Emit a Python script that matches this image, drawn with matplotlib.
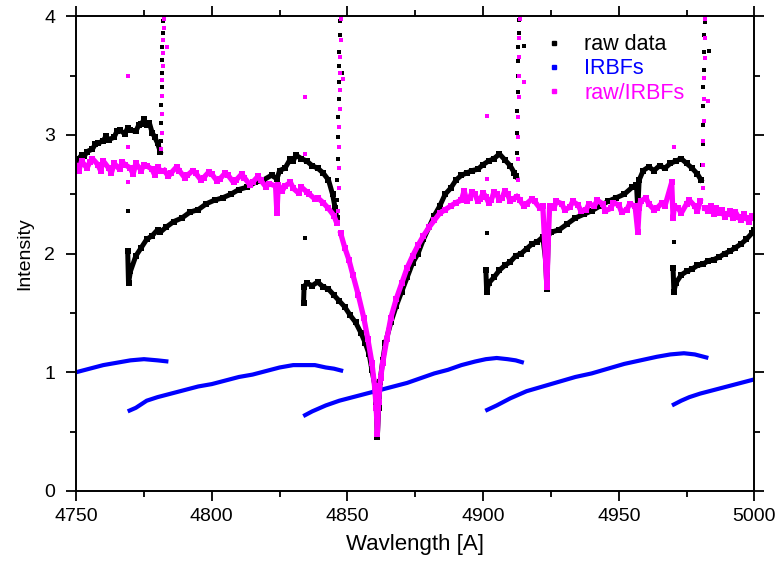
import matplotlib
matplotlib.use("Agg")
import matplotlib.pyplot as plt
from matplotlib.lines import Line2D
from matplotlib.ticker import MultipleLocator

plt.rcParams['font.family'] = ['Liberation Sans', 'DejaVu Sans']

# raw data, one list per echelle order
raw_a_x = [4750, 4751, 4752, 4753, 4754, 4756, 4757, 4758, 4760, 4761, 4762, 4764, 4765, 4766, 4768,
           4769, 4770, 4772, 4773, 4774, 4775, 4776, 4777, 4778, 4779, 4780, 4781]
raw_a_y = [2.76, 2.80, 2.83, 2.82, 2.86, 2.88, 2.92, 2.93, 2.95, 2.99, 2.96, 2.98, 3.03, 3.04, 3.01,
           3.06, 3.04, 3.03, 3.08, 3.09, 3.13, 3.08, 3.10, 3.02, 2.98, 2.93, 2.86]

raw_b_x = [4769.0, 4769.3, 4770, 4772, 4774, 4776, 4778, 4780, 4781, 4783, 4786, 4789, 4792, 4795,
           4798, 4801, 4804, 4807, 4810, 4813, 4816, 4819, 4822, 4824, 4825, 4827, 4829, 4830, 4831,
           4833, 4835, 4837, 4839, 4841, 4843, 4844.5, 4845.5, 4846]
raw_b_y = [2.02, 1.75, 1.85, 1.98, 2.05, 2.12, 2.15, 2.20, 2.18, 2.22, 2.27, 2.30, 2.35, 2.37,
           2.42, 2.45, 2.47, 2.50, 2.54, 2.56, 2.60, 2.62, 2.66, 2.63, 2.70, 2.72, 2.80, 2.78, 2.83,
           2.80, 2.78, 2.74, 2.72, 2.68, 2.62, 2.50, 2.38, 2.30]

raw_c_x = [4833.8, 4834.0, 4835, 4837, 4839, 4841, 4843, 4845, 4847, 4849, 4851, 4853, 4855, 4856.5,
           4858, 4859, 4860, 4860.6, 4861.0, 4861.5, 4862, 4863, 4864, 4866, 4868, 4870, 4872, 4874,
           4876, 4878, 4880, 4882, 4884, 4886, 4888, 4890, 4892, 4894, 4896, 4898, 4900, 4902, 4904,
           4906, 4908, 4910, 4911.5, 4912.2]
raw_c_y = [1.58, 1.72, 1.75, 1.73, 1.76, 1.72, 1.70, 1.65, 1.60, 1.55, 1.48, 1.42, 1.33, 1.25,
           1.15, 1.02, 0.90, 0.72, 0.45, 0.70, 0.92, 1.10, 1.25, 1.42, 1.56, 1.68, 1.80, 1.92,
           2.00, 2.12, 2.22, 2.32, 2.40, 2.50, 2.55, 2.62, 2.66, 2.68, 2.70, 2.71, 2.75, 2.78, 2.80,
           2.84, 2.79, 2.74, 2.68, 2.65]

raw_d_x = [4901.0, 4901.3, 4902, 4904, 4906, 4908, 4910, 4912, 4914, 4916, 4918, 4920, 4922, 4923,
           4923.5, 4924, 4925, 4928, 4931, 4934, 4937, 4940, 4943, 4946, 4949, 4952, 4955, 4956.5,
           4957, 4957.5, 4959, 4961, 4963, 4965, 4967, 4969, 4971, 4973, 4975, 4977, 4979, 4980.3]
raw_d_y = [1.86, 1.68, 1.75, 1.80, 1.86, 1.90, 1.93, 1.98, 2.00, 2.04, 2.08, 2.10, 2.14, 1.95,
           1.70, 2.15, 2.18, 2.20, 2.25, 2.30, 2.33, 2.36, 2.40, 2.44, 2.47, 2.50, 2.56, 2.58,
           2.38, 2.62, 2.70, 2.73, 2.70, 2.74, 2.72, 2.76, 2.78, 2.80, 2.76, 2.72, 2.67, 2.62]

raw_e_x = [4970.0, 4970.3, 4971, 4973, 4975, 4977, 4979, 4981, 4983, 4985, 4987, 4989, 4991, 4993,
           4995, 4997, 4999, 5000]
raw_e_y = [1.88, 1.68, 1.75, 1.82, 1.85, 1.87, 1.90, 1.91, 1.94, 1.95, 1.97, 2.00, 2.02, 2.05,
           2.08, 2.12, 2.17, 2.20]

# order-edge spikes and stray points of the raw data
raw_spike_x = [4781.2, 4781.3, 4781.4, 4781.5, 4781.6, 4781.7, 4781.8, 4781.9, 4782.0,
               4846.2, 4846.3, 4846.4, 4846.5, 4846.6, 4846.7, 4846.8, 4846.9, 4847.0, 4847.1, 4847.2,
               4912.4, 4912.5, 4912.6, 4912.7, 4912.8, 4912.9, 4913.0, 4913.1, 4913.2,
               4980.8, 4980.9, 4981.0, 4981.1, 4981.2, 4981.3, 4981.4, 4981.5, 4981.6]
raw_spike_y = [2.95, 3.10, 3.25, 3.40, 3.52, 3.63, 3.74, 3.86, 3.96,
               2.45, 2.62, 2.80, 2.98, 3.15, 3.30, 3.45, 3.58, 3.70, 3.84, 3.96,
               2.85, 3.02, 3.20, 3.36, 3.50, 3.62, 3.74, 3.86, 3.97,
               2.75, 2.92, 3.08, 3.24, 3.40, 3.55, 3.70, 3.84, 3.95]
raw_out_x = [4769.0, 4834.5, 4901.4, 4970.5, 4848.0, 4915.0, 4983.3]
raw_out_y = [2.36, 2.13, 2.17, 2.10, 3.52, 3.75, 3.71]

# raw / IRBFs
ratio_a_x = [4750, 4751, 4752, 4754, 4755, 4756, 4758, 4759, 4760, 4762, 4763, 4764, 4766, 4767,
             4768, 4770, 4771, 4772, 4774, 4775, 4776, 4778, 4779, 4780, 4781]
ratio_a_y = [2.74, 2.70, 2.78, 2.72, 2.77, 2.80, 2.75, 2.70, 2.78, 2.72, 2.68, 2.76, 2.71, 2.77,
             2.75, 2.72, 2.67, 2.76, 2.70, 2.75, 2.74, 2.71, 2.66, 2.73, 2.70]

ratio_b_x = [4782.5, 4784, 4785, 4787, 4788, 4790, 4791, 4793, 4794, 4796, 4797, 4799, 4800, 4802,
             4803, 4805, 4806, 4808, 4809, 4811, 4812, 4814, 4815, 4817, 4818, 4820, 4821, 4823.5,
             4824, 4824.5, 4826, 4827, 4829, 4830, 4832, 4833, 4835, 4836, 4838, 4839, 4841, 4843,
             4845, 4846]
ratio_b_y = [2.70, 2.65, 2.68, 2.73, 2.70, 2.64, 2.66, 2.70, 2.68, 2.62, 2.64, 2.69, 2.67, 2.61,
             2.63, 2.68, 2.66, 2.60, 2.62, 2.67, 2.64, 2.58, 2.60, 2.65, 2.62, 2.56, 2.59, 2.57,
             2.34, 2.58, 2.53, 2.57, 2.60, 2.55, 2.51, 2.56, 2.52, 2.50, 2.46, 2.47, 2.43, 2.38,
             2.32, 2.26]

ratio_c_x = [4847.5, 4849, 4850.5, 4852, 4854, 4856, 4857.5, 4859, 4860, 4860.6, 4861.0, 4861.5,
             4862.2, 4863, 4864.5, 4866, 4868, 4870, 4872, 4874, 4876, 4878, 4880, 4882, 4884, 4886,
             4888, 4890, 4892, 4893, 4894, 4895, 4896, 4897, 4898, 4899, 4900, 4901, 4902, 4903,
             4904, 4905, 4906, 4907, 4908, 4909, 4910, 4911, 4912.3]
ratio_c_y = [2.17, 2.05, 1.95, 1.82, 1.65, 1.46, 1.28, 1.08, 0.88, 0.70, 0.48, 0.75,
             0.95, 1.08, 1.28, 1.46, 1.62, 1.75, 1.88, 1.98, 2.07, 2.15, 2.22, 2.28, 2.34, 2.37,
             2.40, 2.43, 2.45, 2.53, 2.44, 2.47, 2.52, 2.50, 2.44, 2.46, 2.51, 2.48, 2.43, 2.45,
             2.52, 2.50, 2.45, 2.47, 2.53, 2.50, 2.44, 2.46, 2.48]

ratio_d_x = [4913.5, 4915, 4916, 4918, 4919, 4921, 4922, 4923.5, 4924, 4924.5, 4926, 4927, 4929,
             4930, 4932, 4933, 4935, 4936, 4938, 4939, 4941, 4942, 4944, 4945, 4947, 4948, 4950,
             4951, 4953, 4954, 4956, 4957, 4957.5, 4958, 4960, 4961, 4963, 4964, 4966, 4967, 4969.5,
             4970, 4970.5, 4972, 4973, 4975, 4976, 4978, 4979, 4980]
ratio_d_y = [2.45, 2.40, 2.42, 2.46, 2.44, 2.38, 2.40, 1.72, 2.10, 2.40, 2.38, 2.44, 2.42,
             2.37, 2.39, 2.44, 2.41, 2.36, 2.37, 2.42, 2.40, 2.45, 2.42, 2.36, 2.38, 2.43, 2.41,
             2.35, 2.37, 2.42, 2.40, 2.18, 2.38, 2.44, 2.47, 2.42, 2.37, 2.38, 2.43, 2.40, 2.60,
             2.30, 2.40, 2.38, 2.34, 2.42, 2.45, 2.40, 2.36, 2.44]

ratio_e_x = [4981.8, 4983, 4984, 4985, 4986, 4987, 4988, 4989, 4990, 4991, 4992, 4993, 4994, 4995,
             4996, 4997, 4998, 4999, 5000]
ratio_e_y = [2.38, 2.36, 2.40, 2.33, 2.38, 2.34, 2.37, 2.31, 2.33, 2.36, 2.30, 2.35, 2.31, 2.28,
             2.33, 2.30, 2.27, 2.32, 2.30]

ratio_spike_x = [4781.4, 4781.5, 4781.6, 4781.7, 4781.8, 4781.9, 4782.0, 4782.1, 4782.2, 4782.3,
                 4846.6, 4846.7, 4846.8, 4846.9, 4847.0, 4847.1, 4847.2, 4847.3, 4847.4, 4847.5, 4847.6,
                 4912.7, 4912.8, 4912.9, 4913.0, 4913.1, 4913.2, 4913.3, 4913.4, 4913.5,
                 4981.0, 4981.1, 4981.2, 4981.3, 4981.4, 4981.5, 4981.6, 4981.7, 4981.8]
ratio_spike_y = [2.88, 3.02, 3.18, 3.33, 3.46, 3.58, 3.69, 3.80, 3.90, 3.98,
                 2.36, 2.55, 2.72, 2.90, 3.07, 3.22, 3.38, 3.52, 3.66, 3.80, 3.98,
                 2.62, 2.80, 2.98, 3.15, 3.32, 3.50, 3.66, 3.82, 3.98,
                 2.55, 2.75, 2.95, 3.12, 3.30, 3.48, 3.65, 3.82, 3.98]
ratio_out_x = [4769.0, 4769.0, 4769.0, 4834.5, 4834.5, 4901.4, 4901.4, 4970.5, 4783.5, 4848.5, 4915.0, 4982.8]
ratio_out_y = [3.50, 2.90, 2.60, 3.32, 2.84, 3.16, 2.63, 2.90, 3.74, 3.47, 3.45, 3.29]

# IRBFs (blaze fits)
irbf_1_x = [4750, 4755, 4760, 4765, 4770, 4775, 4780, 4784]
irbf_1_y = [1.00, 1.03, 1.06, 1.08, 1.10, 1.11, 1.10, 1.09]
irbf_2_x = [4769, 4772, 4776, 4780, 4785, 4790, 4795, 4800, 4805, 4810, 4815, 4820, 4825, 4830,
            4834, 4838, 4842, 4845, 4848.4]
irbf_2_y = [0.67, 0.70, 0.76, 0.79, 0.82, 0.85, 0.88, 0.90, 0.93, 0.96, 0.98, 1.01, 1.04, 1.06,
            1.06, 1.06, 1.04, 1.03, 1.01]
irbf_3_x = [4833.7, 4837, 4842, 4847, 4852, 4857, 4862, 4867, 4872, 4877, 4882, 4887, 4892, 4897,
            4901, 4905, 4909, 4912, 4915]
irbf_3_y = [0.63, 0.67, 0.72, 0.76, 0.79, 0.82, 0.85, 0.88, 0.91, 0.95, 0.99, 1.02, 1.06, 1.09,
            1.11, 1.12, 1.11, 1.10, 1.08]
irbf_4_x = [4900.8, 4905, 4910, 4916, 4922, 4928, 4934, 4940, 4946, 4952, 4958, 4964, 4969, 4974,
            4978, 4983]
irbf_4_y = [0.675, 0.72, 0.78, 0.84, 0.88, 0.92, 0.96, 0.99, 1.03, 1.07, 1.10, 1.13, 1.15, 1.16,
            1.15, 1.12]
irbf_5_x = [4969.6, 4973, 4976, 4980, 4985, 4990, 4995, 5000]
irbf_5_y = [0.72, 0.76, 0.79, 0.82, 0.85, 0.88, 0.91, 0.94]

raw_orders = [(raw_a_x, raw_a_y), (raw_b_x, raw_b_y), (raw_c_x, raw_c_y),
              (raw_d_x, raw_d_y), (raw_e_x, raw_e_y)]
ratio_orders = [(ratio_a_x, ratio_a_y), (ratio_b_x, ratio_b_y), (ratio_c_x, ratio_c_y),
                (ratio_d_x, ratio_d_y), (ratio_e_x, ratio_e_y)]
irbf_orders = [(irbf_1_x, irbf_1_y), (irbf_2_x, irbf_2_y), (irbf_3_x, irbf_3_y),
               (irbf_4_x, irbf_4_y), (irbf_5_x, irbf_5_y)]

BLACK = "#000000"
BLUE = "#0000ff"
MAGENTA = "#ff00ff"

fig = plt.figure(figsize=(7.77, 5.61), dpi=100)
ax = fig.add_axes([0.098, 0.125, 0.873, 0.846])

for x, y in raw_orders:
    ax.plot(x, y, color=BLACK, lw=3.6, marker="s", ms=4.5, mew=0)
ax.plot(raw_spike_x, raw_spike_y, ls="none", color=BLACK, marker="s", ms=3, mew=0)
ax.plot(raw_out_x, raw_out_y, ls="none", color=BLACK, marker="s", ms=3, mew=0)

for x, y in irbf_orders:
    ax.plot(x, y, color=BLUE, lw=3.0, solid_capstyle="butt")

for x, y in ratio_orders:
    ax.plot(x, y, color=MAGENTA, lw=3.8, marker="s", ms=5, mew=0)
ax.plot(ratio_spike_x, ratio_spike_y, ls="none", color=MAGENTA, marker="s", ms=3, mew=0)
ax.plot(ratio_out_x, ratio_out_y, ls="none", color=MAGENTA, marker="s", ms=3, mew=0)

ax.set_xlim(4750, 5000)
ax.set_ylim(0, 4)
ax.xaxis.set_major_locator(MultipleLocator(50))
ax.xaxis.set_minor_locator(MultipleLocator(25))
ax.yaxis.set_major_locator(MultipleLocator(1))
ax.yaxis.set_minor_locator(MultipleLocator(0.5))

for s in ax.spines.values():
    s.set_linewidth(1.4)

# outward ticks on all four sides, labels only bottom / left
ax.tick_params(which="both", direction="out", width=1.3, labelsize=14,
               top=True, right=True, labeltop=False, labelright=False)
ax.tick_params(which="major", length=7)
ax.tick_params(which="minor", length=4)
ax.tick_params(axis="x", pad=5)
ax.tick_params(axis="y", pad=8)

ax.set_xlabel("Wavlength [A]", fontsize=16, labelpad=7)
ax.set_ylabel("Intensity", fontsize=14, labelpad=8)

handles = [Line2D([], [], ls="none", marker="s", ms=3, color=BLACK),
           Line2D([], [], ls="none", marker="s", ms=3, color=BLUE),
           Line2D([], [], ls="none", marker="s", ms=3, color=MAGENTA)]
ax.legend(handles, ["raw data", "IRBFs", "raw/IRBFs"], loc="upper left",
          bbox_to_anchor=(0.66, 1.003), frameon=False, fontsize=15.5,
          handlelength=1.0, handletextpad=0.9, labelspacing=0.15,
          labelcolor=[BLACK, BLUE, MAGENTA])

fig.savefig("out.png", dpi=100)
